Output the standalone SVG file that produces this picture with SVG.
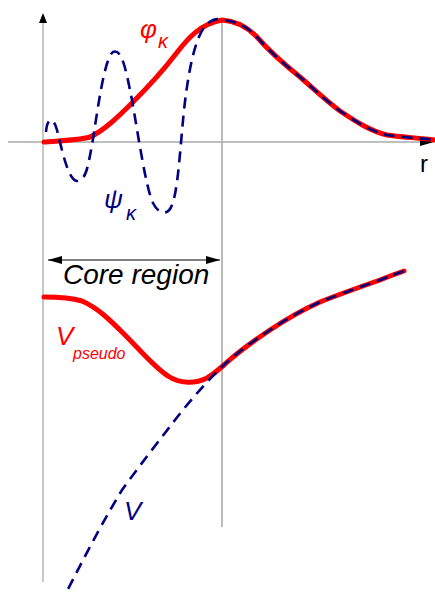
<svg xmlns="http://www.w3.org/2000/svg" width="435" height="593" viewBox="0 0 435 593">
<defs>
<marker id="ahb" viewBox="0 0 14 10" refX="14" refY="5" markerWidth="14" markerHeight="10" markerUnits="userSpaceOnUse" orient="auto-start-reverse"><path d="M0,1 L14,5 L0,9 Z" fill="#000"/></marker>
</defs>
<style>
.axis{stroke:#aaaaaa;stroke-width:1.3;fill:none}
.red{stroke:#ff0000;stroke-width:5;fill:none;stroke-linecap:round;stroke-linejoin:round}
.blue{stroke:#000080;stroke-width:2.6;fill:none;stroke-dasharray:11,7}
.lbl{font-family:"Liberation Sans",Arial,sans-serif;font-style:italic}
</style>
<rect width="435" height="593" fill="#fff"/>
<g id="axes">
<line class="axis" x1="43" y1="22" x2="43" y2="582"/>
<path d="M43,13 L39,23 L47,23 Z" fill="#000"/>
<line class="axis" x1="8" y1="142" x2="422" y2="142"/>
<path d="M434,142 L420,138 L420,146 Z" fill="#000"/>
<line x1="222" y1="18" x2="222" y2="527" stroke="#aaaaaa" stroke-width="1.6"/>
</g>
<g id="core-region">
<line x1="48" y1="260" x2="220" y2="260" stroke="#000" stroke-width="1" marker-start="url(#ahb)" marker-end="url(#ahb)"/>
<text class="lbl" x="63" y="284" font-size="28" fill="#000">Core region</text>
</g>
<g id="wavefunctions">
<path class="red" d="M44,142 C60,141 80,140 90,137 C105,130 120,115 133,102 C150,85 165,68 175,55 C188,38 200,24 222,20 C238,21 248,28 256,36 C270,52 285,65 300,77 C315,90 325,100 340,111 C355,121 370,131 387,135 C400,137 420,138 435,140"/>
<path class="blue" d="M46,132 C47,118 53,115 57,130 C62,150 68,180 77,181 C86,181 88,166 92,145 C97,115 104,58 113,52 C122,48 126,70 132,100 C139,140 146,188 153,203 C159,215 168,216 172,205 C178,190 180,150 184,110 C188,75 194,40 205,26 C212,19 217,18 222,20 C238,21 248,28 256,36 C270,52 285,65 300,77 C315,90 325,100 340,111 C355,121 370,131 387,135 C400,137 420,138 435,140"/>
</g>
<g id="potentials">
<path class="red" d="M44,297 C60,297 72,298 82,301 C98,308 110,320 125,335 C140,350 155,368 168,376 C180,384 195,384 207,378 C214,374 218,370 225,364 C240,350 255,340 270,330 C285,320 300,311 320,302 C340,294 360,287 380,280 C390,276 398,273 404,271"/>
<path class="blue" d="M404,271 C398,273 390,276 380,280 C360,287 340,294 320,302 C300,311 285,320 270,330 C255,340 240,350 225,364 C210,378 192,398 175,420 C158,442 140,465 122,490 C105,518 88,550 66,593"/>
</g>
<g id="labels">
<text class="lbl" x="140" y="38" font-size="26" fill="#ff0000">φ</text>
<text class="lbl" x="158" y="48" font-size="20" fill="#ff0000">κ</text>
<text class="lbl" x="104" y="208" font-size="26" fill="#000080">ψ</text>
<text class="lbl" x="126" y="220" font-size="20" fill="#000080">κ</text>
<text x="420" y="172" font-family="Liberation Sans,Arial,sans-serif" font-size="24" fill="#000">r</text>
<text class="lbl" x="56" y="345" font-size="26" fill="#ff0000">V</text>
<text class="lbl" x="73" y="359" font-size="16" fill="#ff0000">pseudo</text>
<text class="lbl" x="124" y="520" font-size="26" fill="#000080">V</text>
</g>
</svg>
